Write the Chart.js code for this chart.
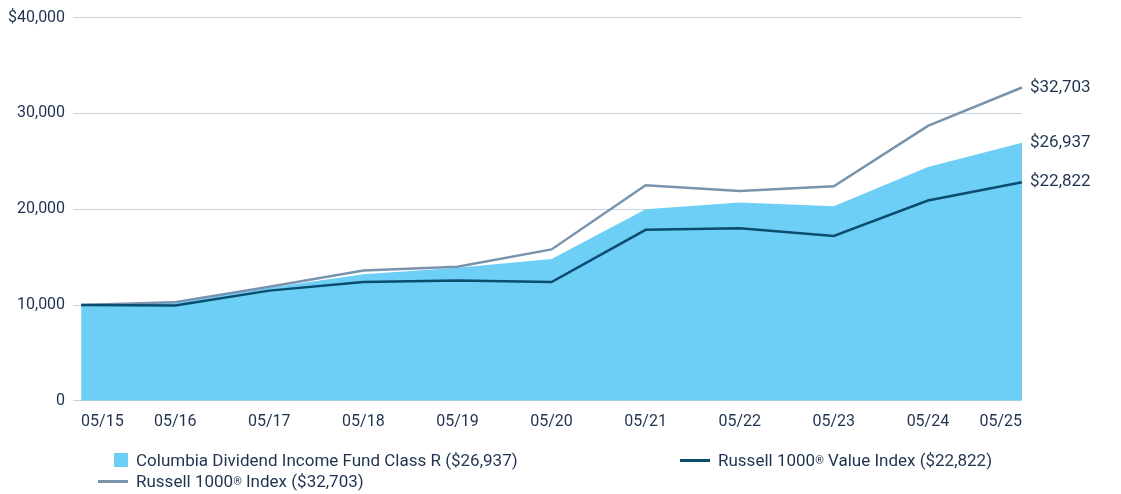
<!DOCTYPE html>
<html><head><meta charset="utf-8">
<script src="https://cdn.jsdelivr.net/npm/chart.js@4/dist/chart.umd.min.js"></script>
<style>
body{margin:0;background:#fff;font-family:Roboto,sans-serif;}
#wrap{position:relative;width:1121px;height:494px;}
.lg{position:absolute;font-size:17px;color:#1f3350;display:flex;align-items:center;white-space:nowrap}
.sw{display:inline-block;width:14px;height:14px;background:#6dcff6;margin-right:8px}
.ln{display:inline-block;width:30px;height:3px;margin-right:8px}
sup{font-size:11px}
</style></head><body>
<div id="wrap"><canvas id="c" width="1121" height="494"></canvas>
<div class="lg" style="left:114px;top:450px"><span class="sw"></span>Columbia Dividend Income Fund Class R ($26,937)</div>
<div class="lg" style="left:680px;top:450px"><span class="ln" style="background:#0b4d6e"></span>Russell 1000<sup>®</sup>&nbsp;Value Index ($22,822)</div>
<div class="lg" style="left:98px;top:471px"><span class="ln" style="background:#7a93ad"></span>Russell 1000<sup>®</sup>&nbsp;Index ($32,703)</div>
</div>
<script>
const labels=["05/15","05/16","05/17","05/18","05/19","05/20","05/21","05/22","05/23","05/24","05/25"];
const fund=[10000,10400,11800,13200,13900,14800,20000,20700,20300,24400,26937];
const r1000=[10000,10300,11900,13600,14000,15800,22500,21900,22400,28700,32703];
const r1000v=[10000,9950,11500,12400,12550,12400,17850,18000,17200,20900,22822];
const endLabels={id:'endLabels',afterDatasetsDraw(ch){const c=ch.ctx;c.save();c.font='17px Roboto';c.fillStyle='#1f3350';c.textBaseline='middle';
[[0,'$26,937'],[1,'$22,822'],[2,'$32,703']].forEach(([i,t])=>{const m=ch.getDatasetMeta(i).data;const p=m[m.length-1];c.fillText(t,p.x+8,p.y);});c.restore();}};
new Chart(document.getElementById('c'),{type:'line',data:{labels,datasets:[
{data:fund,fill:'origin',backgroundColor:'#6dcff6',borderWidth:0,pointRadius:0,order:3},
{data:r1000v,borderColor:'#0b4d6e',borderWidth:2.5,pointRadius:0,fill:false,order:1},
{data:r1000,borderColor:'#7a93ad',borderWidth:2.5,pointRadius:0,fill:false,order:2}]},
options:{responsive:false,animation:false,plugins:{legend:{display:false},tooltip:{enabled:false}},
layout:{padding:{top:4,right:99,bottom:58,left:0}},
scales:{x:{offset:false,grid:{display:false},border:{display:false},ticks:{align:'inner',color:'#1f3350',font:{size:16,family:'Roboto'},padding:4,maxRotation:0}},
y:{min:0,max:40000,ticks:{stepSize:10000,color:'#1f3350',font:{size:16,family:'Roboto'},padding:8,callback:v=>v===40000?'$40,000':v.toLocaleString('en-US')},grid:{color:'#c8d3dd'},border:{display:false}}}},
plugins:[endLabels]});
</script></body></html>
